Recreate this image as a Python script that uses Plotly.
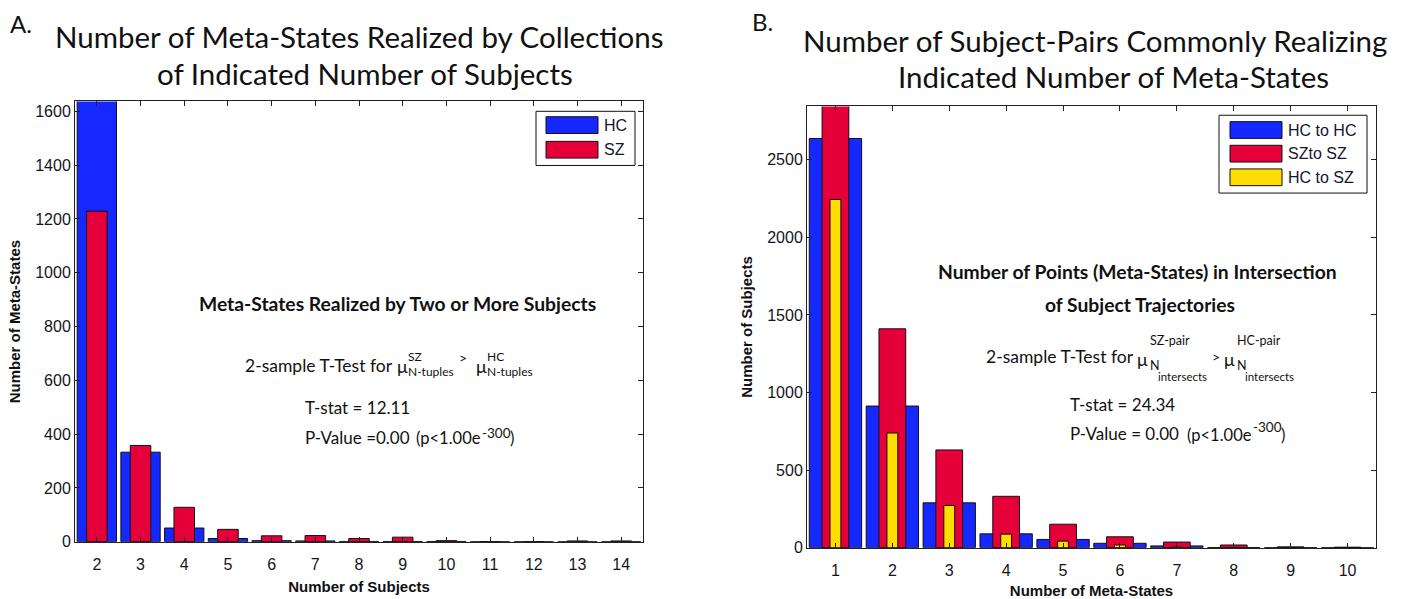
import plotly.graph_objects as go

# ---------------- data ----------------
subjects_n = [2, 3, 4, 5, 6, 7, 8, 9, 10, 11, 12, 13, 14]
hc_meta_states = [1800, 333, 51, 12, 4, 3, 1, 1, 1, 0, 0, 0, 0]
sz_meta_states = [1229, 358, 128, 46, 22, 23, 12, 17, 4, 0, 0, 3, 3]

meta_states_n = [1, 2, 3, 4, 5, 6, 7, 8, 9, 10]
hc_to_hc = [2638, 913, 289, 89, 53, 28, 11, 1, 0, 0]
sz_to_sz = [2950, 1411, 630, 331, 151, 70, 36, 17, 5, 3]
hc_to_sz = [2245, 739, 272, 87, 42, 17, 5, 1, 0, 0]

yticks_a = [0, 200, 400, 600, 800, 1000, 1200, 1400, 1600]
yticks_b = [0, 500, 1000, 1500, 2000, 2500]

BLUE = "#1428FF"
RED = "#E6003A"
YELLOW = "#FFDD00"

W, H = 1401, 599


def px(x):
    return x / W


def py(y):
    return 1 - y / H


fig = go.Figure()

# Panel A
fig.add_trace(go.Bar(x=subjects_n, y=hc_meta_states, name="HC", width=0.9,
                     marker=dict(color=BLUE, line=dict(color="#111", width=1)),
                     xaxis="x", yaxis="y", showlegend=False))
fig.add_trace(go.Bar(x=subjects_n, y=sz_meta_states, name="SZ", width=0.47,
                     marker=dict(color=RED, line=dict(color="#111", width=1)),
                     xaxis="x", yaxis="y", showlegend=False))
# Panel B
fig.add_trace(go.Bar(x=meta_states_n, y=hc_to_hc, name="HC to HC", width=0.92,
                     marker=dict(color=BLUE, line=dict(color="#111", width=1)),
                     xaxis="x2", yaxis="y2", showlegend=False))
fig.add_trace(go.Bar(x=meta_states_n, y=sz_to_sz, name="SZto SZ", width=0.47,
                     marker=dict(color=RED, line=dict(color="#111", width=1)),
                     xaxis="x2", yaxis="y2", showlegend=False))
fig.add_trace(go.Bar(x=meta_states_n, y=hc_to_sz, name="HC to SZ", width=0.19,
                     marker=dict(color=YELLOW, line=dict(color="#111", width=1)),
                     xaxis="x2", yaxis="y2", showlegend=False))

tickfont = dict(family="Liberation Sans, Arial", size=16, color="#151520")
titlefont = dict(family="Liberation Sans, Arial", size=15, color="#111", weight="bold")
axis_common = dict(showline=True, linecolor="#222", linewidth=1, mirror="allticks",
                   ticks="inside", ticklen=5, tickcolor="#222", tickfont=tickfont,
                   showgrid=False, zeroline=False)

fig.update_layout(
    width=W, height=H, margin=dict(l=0, r=0, t=0, b=0),
    paper_bgcolor="white", plot_bgcolor="white",
    barmode="overlay", showlegend=False,
    xaxis=dict(domain=[px(75), px(643)], range=[1.5, 14.5], tickvals=subjects_n,
               anchor="y", ticklabelstandoff=8,
               title=dict(text="Number of Subjects", font=titlefont, standoff=9),
               **axis_common),
    yaxis=dict(domain=[py(550), py(103)], range=[0, 1637], tickvals=yticks_a,
               anchor="x", title=dict(text="Number of Meta-States", font=titlefont, standoff=10),
               **axis_common),
    xaxis2=dict(domain=[px(807), px(1376)], range=[0.5, 10.5], tickvals=meta_states_n,
                anchor="y2", ticklabelstandoff=8,
                title=dict(text="Number of Meta-States", font=titlefont, standoff=9),
                **axis_common),
    yaxis2=dict(domain=[py(556), py(108)], range=[0, 2845], tickvals=yticks_b,
                anchor="x2", title=dict(text="Number of Subjects", font=titlefont, standoff=10),
                **axis_common),
)

MY = "Lato, Open Sans, sans-serif"
ann = []


def text(x, y, s, size, xanchor="left", bold=False, color="#111"):
    if xanchor == "left":
        x -= 2
    elif xanchor == "right":
        x += 2
    ann.append(dict(x=px(x), y=py(y), xref="paper", yref="paper", text=s,
                    showarrow=False, xanchor=xanchor, yanchor="middle",
                    font=dict(family=MY, size=size, color=color,
                              weight="bold" if bold else "normal")))


# titles
text(21, 24, "A.", 24, "center")
text(359, 37, "Number of Meta-States Realized by Collections", 29.5, "center")
text(365, 75, "of Indicated Number of Subjects", 29.5, "center")
text(762, 22, "B.", 24, "center")
text(1095, 41, "Number of Subject-Pairs Commonly Realizing", 29.5, "center")
text(1113, 78, "Indicated Number of Meta-States", 29.5, "center")

# panel A annotation
text(397, 308, "Meta-States Realized by Two or More Subjects", 19.3, "center", bold=True)
text(393, 371, "2-sample T-Test for", 17.5, "right")
text(397, 372, "μ", 17.8)
text(408, 362, "SZ", 12)
text(408, 377, "N-tuples", 12)
text(459, 363, "&gt;", 14)
text(476, 372, "μ", 17.8)
text(487, 362, "HC", 12)
text(487, 377, "N-tuples", 12)
text(305, 414, "T-stat = 12.11", 17)
text(305, 444, "P-Value =0.00", 17)
text(416, 445, "(p&lt;1.00e", 16.5)
text(482, 440, "-300", 13.5)
text(510, 445, ")", 16.5)

# panel B annotation
text(1137, 276, "Number of Points (Meta-States) in Intersection", 19.3, "center", bold=True)
text(1140, 309, "of Subject Trajectories", 19.3, "center", bold=True)
text(1134, 362, "2-sample T-Test for", 17.5, "right")
text(1137, 364, "μ", 17.8)
text(1150, 346, "SZ-pair", 12.5)
text(1150, 371, "N", 12.5)
text(1158, 382, "intersects", 11.5)
text(1212, 362, "&gt;", 14)
text(1224, 364, "μ", 17.8)
text(1237, 346, "HC-pair", 12.5)
text(1237, 371, "N", 12.5)
text(1245, 382, "intersects", 11.5)
text(1070, 411, "T-stat = 24.34", 17)
text(1070, 440, "P-Value = 0.00", 17)
text(1187, 442, "(p&lt;1.00e", 16.5)
text(1253, 434, "-300", 13.5)
text(1281, 442, ")", 16.5)

# custom legends (MATLAB style, wide swatches)
shapes = []
legfont = dict(family="Liberation Sans, Arial", size=16, color="#151530")


def legend(box, rows):
    x0, y0, x1, y1 = box
    shapes.append(dict(type="rect", xref="paper", yref="paper", x0=px(x0), x1=px(x1),
                       y0=py(y1), y1=py(y0), line=dict(color="#111", width=1),
                       fillcolor="white", layer="above"))
    for (sx0, sx1, cy, col, label) in rows:
        shapes.append(dict(type="rect", xref="paper", yref="paper", x0=px(sx0), x1=px(sx1),
                           y0=py(cy + 8.5), y1=py(cy - 8.5), line=dict(color="#111", width=1),
                           fillcolor=col, layer="above"))
        ann.append(dict(x=px(sx1 + 4), y=py(cy), xref="paper", yref="paper", text=label,
                        showarrow=False, xanchor="left", yanchor="middle", font=legfont))


legend((536, 113, 635, 168), [(546, 598, 127, BLUE, "HC"), (546, 598, 152, RED, "SZ")])
legend((1219, 117, 1367, 196), [(1230, 1282, 132, BLUE, "HC to HC"),
                                (1230, 1282, 156, RED, "SZto SZ"),
                                (1230, 1282, 180, YELLOW, "HC to SZ")])

fig.update_layout(annotations=ann, shapes=shapes)

fig.write_html("out.html", config={"displayModeBar": False},
               post_script="document.body.style.margin='0';document.body.style.overflow='hidden';")
